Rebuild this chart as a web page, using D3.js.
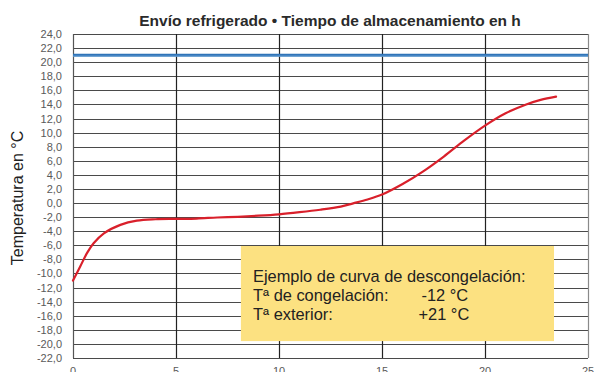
<!DOCTYPE html>
<html>
<head>
<meta charset="utf-8">
<script src="https://cdn.jsdelivr.net/npm/d3@7"></script>
<style>
  html, body { margin: 0; padding: 0; background: #fff; }
  svg { display: block; font-family: "Liberation Sans", Arial, Helvetica, sans-serif; }
</style>
</head>
<body>
<svg id="chart" width="594" height="372"></svg>
<script>
// Storage time in hours and product temperature in °C (thawing curve)
const hours = [0, 0.35, 0.7, 1.0, 1.5, 2.3, 3.1, 4, 5, 6, 7, 8, 9, 10, 11, 12, 13, 13.6, 14.3, 15, 16, 17, 18, 19, 20, 21, 22, 22.7, 23.45];
const temps = [-11, -9.0, -7.0, -5.7, -4.3, -3.1, -2.5, -2.3, -2.25, -2.2, -2.05, -1.95, -1.8, -1.6, -1.3, -0.95, -0.5, -0.05, 0.5, 1.2, 2.7, 4.5, 6.6, 8.9, 11.0, 12.75, 14.0, 14.65, 15.1];
// Outside temperature reference line
const outsideTemp = 21;
// Axis ticks
const xTicks = [0, 5, 10, 15, 20, 25];
const yTicks = d3.range(-22, 25, 2);
// Info box text
const boxLines = [
  ["Ejemplo de curva de descongelación:", ""],
  ["Tª de congelación:", "-12 °C"],
  ["Tª exterior:", "+21 °C"]
];
const titleText = "Envío refrigerado • Tiempo de almacenamiento en h";
const yTitle = "Temperatura en °C";

const svg = d3.select("#chart");
const margin = { left: 73, right: 6, top: 34, bottom: 14 };
const W = 594, H = 372;

const x = d3.scaleLinear().domain([0, 25]).range([margin.left, W - margin.right]);
const y = d3.scaleLinear().domain([-22, 24]).range([H - margin.bottom, margin.top]);

const loc = d3.formatLocale({ decimal: ",", thousands: ".", grouping: [3], currency: ["", "€"], minus: "-" });
const fmt = loc.format(".1f");

// Horizontal grid
svg.append("g")
  .selectAll("line")
  .data(yTicks)
  .join("line")
  .attr("x1", x(0)).attr("x2", x(25))
  .attr("y1", d => Math.round(y(d)) + 0.5).attr("y2", d => Math.round(y(d)) + 0.5)
  .attr("stroke", "#4a4a4a").attr("stroke-width", 1.1);

// Vertical grid
svg.append("g")
  .selectAll("line")
  .data(xTicks)
  .join("line")
  .attr("x1", d => Math.round(x(d)) + 0.5).attr("x2", d => Math.round(x(d)) + 0.5)
  .attr("y1", y(24)).attr("y2", y(-22))
  .attr("stroke", d => d === 25 ? "#8a8a8a" : (d === 0 ? "#555" : "#222"))
  .attr("stroke-width", 1.2);

// Y tick labels
svg.append("g")
  .selectAll("text")
  .data(yTicks)
  .join("text")
  .attr("x", 62)
  .attr("y", d => y(d) + 4)
  .attr("text-anchor", "end")
  .attr("font-size", 11)
  .attr("fill", "#5a5a5a")
  .text(d => fmt(d));

// X tick labels (sit at the lower edge)
svg.append("g")
  .selectAll("text")
  .data(xTicks)
  .join("text")
  .attr("x", d => x(d))
  .attr("y", 375)
  .attr("text-anchor", "middle")
  .attr("font-size", 11)
  .attr("fill", "#5a5a5a")
  .text(d => d);

// Outside temperature line
svg.append("line")
  .attr("x1", x(0)).attr("x2", x(25))
  .attr("y1", y(outsideTemp)).attr("y2", y(outsideTemp))
  .attr("stroke", "#2f74b8").attr("stroke-width", 3);
svg.append("line")
  .attr("x1", x(0)).attr("x2", x(25))
  .attr("y1", y(outsideTemp) + 1).attr("y2", y(outsideTemp) + 1)
  .attr("stroke", "#7fb0dd").attr("stroke-width", 0.8);

// Info box
const box = { x0: 8.15, x1: 23.35, y0: -6.1, y1: -19.6 };
svg.append("rect")
  .attr("x", x(box.x0)).attr("y", y(box.y0))
  .attr("width", x(box.x1) - x(box.x0))
  .attr("height", y(box.y1) - y(box.y0))
  .attr("fill", "#fce181");

const bt = svg.append("g").attr("font-size", 16.4).attr("fill", "#222");
boxLines.forEach((row, i) => {
  bt.append("text").attr("x", 253).attr("y", 282 + i * 19).text(row[0]);
  if (row[1]) bt.append("text").attr("x", row[1][0] === "+" ? 418.5 : 421.5).attr("y", 282 + i * 19).text(row[1]);
});

// Thawing curve
const line = d3.line()
  .x((d, i) => x(hours[i]))
  .y(d => y(d))
  .curve(d3.curveCatmullRom.alpha(0.5));
svg.append("path")
  .attr("d", line(temps))
  .attr("fill", "none")
  .attr("stroke", "#d9202b")
  .attr("stroke-width", 2.2)
  .attr("stroke-linecap", "round");

// Title
svg.append("text")
  .attr("x", 330).attr("y", 26)
  .attr("text-anchor", "middle")
  .attr("font-size", 15.5)
  .attr("font-weight", "bold")
  .attr("fill", "#2a2a2a")
  .text(titleText);

// Y axis title
svg.append("text")
  .attr("transform", "translate(23,198) rotate(-90)")
  .attr("text-anchor", "middle")
  .attr("font-size", 16)
  .attr("fill", "#222")
  .text(yTitle);
</script>
</body>
</html>
